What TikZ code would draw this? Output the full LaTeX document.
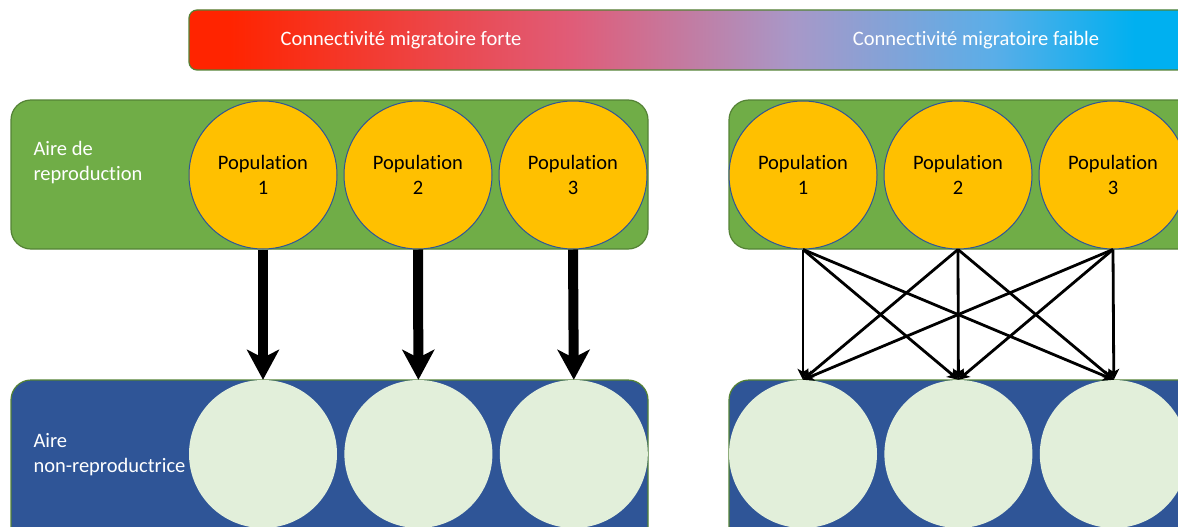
\documentclass[tikz,border=0pt]{standalone}
\usepackage{fontspec}
\setmainfont{Carlito}[Ligatures=NoCommon]
\usetikzlibrary{arrows.meta,positioning}
\definecolor{breed}{HTML}{70AD47}
\definecolor{breededge}{HTML}{548235}
\definecolor{winter}{HTML}{2F5597}
\definecolor{popfill}{HTML}{FFC000}
\definecolor{pale}{HTML}{E2EFDA}
\definecolor{cred}{HTML}{FF2400}
\definecolor{cpink}{HTML}{E05C78}
\definecolor{cmauve}{HTML}{A898C8}
\definecolor{clight}{HTML}{5AAEE8}
\definecolor{cblue}{HTML}{00B0F0}
\pgfdeclarehorizontalshading{connect}{100bp}{color(0bp)=(cred); color(27bp)=(cred);
  color(44bp)=(cpink); color(55bp)=(cmauve); color(65bp)=(clight);
  color(72bp)=(cblue); color(100bp)=(cblue)}
\tikzset{
  area/.style={draw=breededge, line width=1.2pt, rounded corners=20pt},
  popn/.style={circle, minimum size=148pt, inner sep=0pt, align=center,
    font=\fontsize{20.5}{25}\selectfont},
  popb/.style={popn, fill=popfill, draw=winter, line width=1pt},
  popw/.style={popn, fill=pale, draw=none},
  areatext/.style={anchor=west, align=left, text=white, font=\fontsize{20.5}{25}\selectfont},
  bartext/.style={text=white, font=\fontsize{20.5}{25}\selectfont},
  strong/.style={-{Stealth[width=32pt, length=30pt, inset=8pt]}, line width=10pt},
  weak/.style={-{Stealth[width=11pt, length=11pt, inset=3pt]}, line width=2.8pt},
}

\begin{document}
\begin{tikzpicture}[x=1pt, y=-1pt, node distance=6pt]
    \useasboundingbox (0,0) rectangle (1178,527);
    \clip (0,0) rectangle (1178,527);
    % gradient bar
    \shade[shading=connect, draw=breededge, line width=1.2pt, rounded corners=8pt] (189,10) rectangle (1195,70);
    \node[bartext] (strongtxt) at (401,40) {Connectivité migratoire forte};
    \node[bartext] (weaktxt) at (976,40) {Connectivité migratoire faible};
    % areas
    \draw[area, fill=breed] (11,100) rectangle (648,249);
    \draw[area, fill=winter] (11,380) rectangle (648,570);
    \draw[area, fill=breed] (729,100) rectangle (1210,249);
    \draw[area, fill=winter] (729,380) rectangle (1210,570);
    \node[areatext] (breedtxt) at (30,163) {Aire de\\reproduction};
    \node[areatext] (wintertxt) at (30,455) {Aire\\non-reproductrice};
    % strong connectivity
    \node[popb] (L1) at (263,175) {Population\\1};
    \node[popb, right=of L1] (L2) {Population\\2};
    \node[popb, right=of L2] (L3) {Population\\3};
    \node[popw] (M1) at (263,454) {};
    \node[popw, right=7pt of M1] (M2) {};
    \node[popw, right=7pt of M2] (M3) {};
    \foreach \i in {1,2,3} \draw[strong] (L\i.south) -- (M\i.north);
    % weak connectivity
    \node[popb] (R1) at (803,175) {Population\\1};
    \node[popb, right=of R1] (R2) {Population\\2};
    \node[popb, right=of R2] (R3) {Population\\3};
    \node[popw] (S1) at (803,454) {};
    \node[popw, right=7pt of S1] (S2) {};
    \node[popw, right=7pt of S2] (S3) {};
    \foreach \i in {1,2,3} \foreach \j in {1,2,3} \draw[weak] (R\i.south) -- (S\j.north);
  \end{tikzpicture}
\end{document}
